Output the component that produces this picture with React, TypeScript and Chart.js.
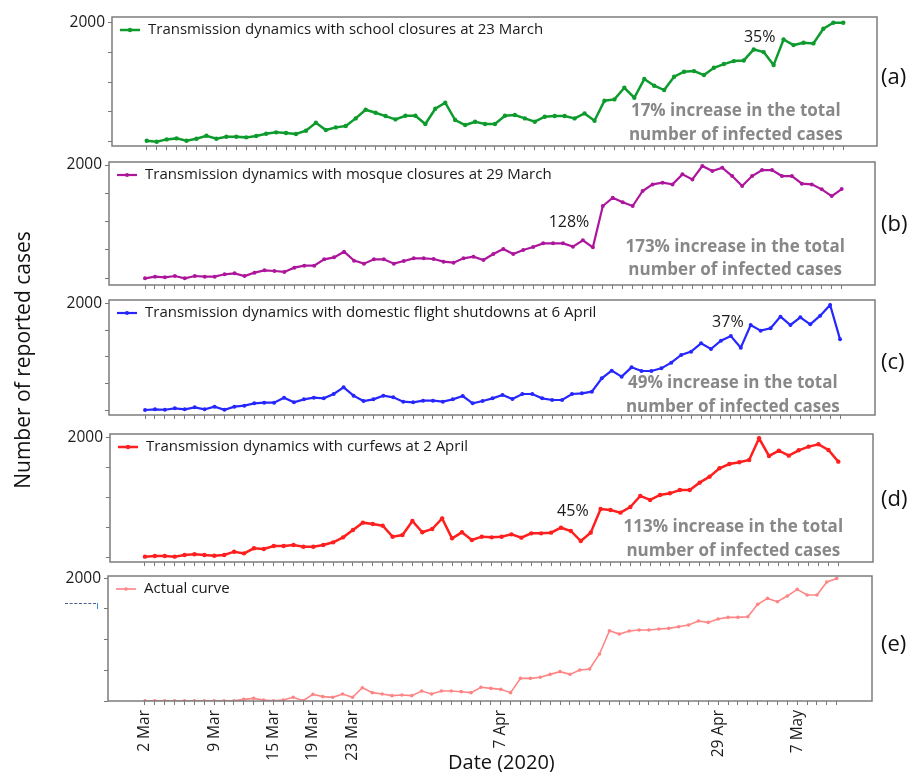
import React, { useEffect, useRef } from "react";
import { Chart, registerables } from "chart.js";

Chart.register(...registerables);
Chart.defaults.font.family = "'Open Sans', 'DejaVu Sans', sans-serif";

// ---- Data ----
const dates: string[] = [
  "2 Mar", "3 Mar", "4 Mar", "5 Mar", "6 Mar", "7 Mar", "8 Mar", "9 Mar", "10 Mar", "11 Mar",
  "12 Mar", "13 Mar", "14 Mar", "15 Mar", "16 Mar", "17 Mar", "18 Mar", "19 Mar", "20 Mar", "21 Mar",
  "22 Mar", "23 Mar", "24 Mar", "25 Mar", "26 Mar", "27 Mar", "28 Mar", "29 Mar", "30 Mar", "31 Mar",
  "1 Apr", "2 Apr", "3 Apr", "4 Apr", "5 Apr", "6 Apr", "7 Apr", "8 Apr", "9 Apr", "10 Apr",
  "11 Apr", "12 Apr", "13 Apr", "14 Apr", "15 Apr", "16 Apr", "17 Apr", "18 Apr", "19 Apr", "20 Apr",
  "21 Apr", "22 Apr", "23 Apr", "24 Apr", "25 Apr", "26 Apr", "27 Apr", "28 Apr", "29 Apr", "30 Apr",
  "1 May", "2 May", "3 May", "4 May", "5 May", "6 May", "7 May", "8 May", "9 May", "10 May", "11 May",
];
const tickLabels: string[] = ["2 Mar", "9 Mar", "15 Mar", "19 Mar", "23 Mar", "7 Apr", "29 Apr", "7 May"];
const yTickValues: number[] = [0, 500, 1000, 1500, 2000];
const yLabelValues: number[] = [2000];

const schoolClosures: number[] = [
  17, 0, 39, 56, 17, 50, 101, 50, 84, 84,
  73, 95, 134, 157, 146, 129, 185, 319, 196, 241,
  263, 392, 538, 487, 431, 375, 437, 437, 297, 554,
  655, 364, 280, 336, 297, 297, 437, 448, 392, 336,
  420, 431, 431, 392, 476, 353, 689, 711, 907, 739,
  1053, 941, 868, 1092, 1176, 1187, 1120, 1243, 1305, 1355,
  1366, 1551, 1506, 1288, 1719, 1624, 1663, 1652, 1898, 1999, 1999,
];
const mosqueClosures: number[] = [
  0, 29, 18, 41, 0, 41, 29, 29, 71, 88,
  41, 100, 141, 129, 112, 188, 223, 223, 335, 370,
  470, 312, 259, 335, 335, 259, 306, 353, 353, 341,
  294, 276, 353, 382, 323, 429, 517, 429, 500, 553,
  617, 617, 617, 559, 670, 547, 1276, 1423, 1341, 1276,
  1541, 1658, 1688, 1658, 1835, 1746, 1982, 1893, 1952, 1805,
  1629, 1805, 1911, 1911, 1805, 1805, 1670, 1658, 1570, 1452, 1576,
];
const flightShutdowns: number[] = [
  0, 13, 5, 31, 13, 50, 13, 63, 5, 63,
  82, 126, 138, 138, 233, 145, 201, 233, 220, 302,
  428, 270, 170, 201, 270, 239, 157, 145, 176, 176,
  157, 201, 264, 126, 170, 220, 283, 208, 302, 302,
  220, 189, 189, 302, 315, 346, 598, 742, 629, 805,
  736, 736, 786, 893, 1038, 1101, 1258, 1151, 1308, 1396,
  1176, 1604, 1497, 1541, 1761, 1604, 1749, 1617, 1780, 1981, 1333,
];
const curfews: number[] = [
  17, 28, 28, 17, 44, 56, 44, 33, 44, 100,
  72, 156, 145, 195, 195, 211, 183, 183, 211, 256,
  339, 461, 584, 561, 534, 350, 378, 612, 423, 478,
  656, 322, 423, 295, 350, 339, 350, 389, 334, 406,
  406, 417, 500, 445, 278, 417, 812, 795, 751, 845,
  1029, 962, 1045, 1073, 1129, 1129, 1251, 1351, 1490, 1562,
  1590, 1629, 1990, 1696, 1785, 1701, 1790, 1851, 1890, 1796, 1601,
];
const actualCurve: number[] = [
  5, 5, 5, 5, 5, 5, 5, 5, 5, 5,
  27, 43, 16, 5, 16, 60, 5, 109, 71, 60,
  114, 60, 217, 136, 114, 87, 98, 87, 163, 114,
  163, 163, 152, 136, 223, 206, 190, 136, 369, 369,
  386, 434, 478, 434, 505, 521, 766, 1146, 1091, 1140,
  1157, 1157, 1173, 1184, 1211, 1238, 1303, 1281, 1336, 1363,
  1363, 1374, 1575, 1672, 1618, 1710, 1819, 1727, 1727, 1939, 1998,
];

const legendLabels: string[] = [
  "Transmission dynamics with school closures at 23 March",
  "Transmission dynamics with mosque closures at 29 March",
  "Transmission dynamics with domestic flight shutdowns at 6 April",
  "Transmission dynamics with curfews at 2 April",
  "Actual curve",
];
const panelTags: string[] = ["(a)", "(b)", "(c)", "(d)", "(e)"];
const percentNotes: string[] = ["35%", "128%", "37%", "45%", ""];
const increaseNotes: string[] = [
  "17% increase in the total",
  "173% increase in the total",
  "49% increase in the total",
  "113% increase in the total",
  "",
];
const increaseNote2 = "number of infected cases";

// ---- Layout / style ----
type Panel = {
  series: number[];
  color: string;
  lw: number;
  pr: number;
  box: { l: number; t: number; r: number; b: number };
  xr: [number, number];
  yr: [number, number];
  pct?: [number, number];
  note?: [number, number, number];
  showX: boolean;
  tagY: number;
};

const panels: Panel[] = [
  { series: schoolClosures, color: "#0e9b2d", lw: 2.5, pr: 2.2, box: { l: 112, t: 17, r: 877, b: 146 }, xr: [-3.49, 73.39], yr: [-72, 2096], pct: [61.6, 1750], note: [59.2, 516, 113], showX: false, tagY: 75 },
  { series: mosqueClosures, color: "#ad169c", lw: 2.2, pr: 2.0, box: { l: 109, t: 162, r: 875, b: 285 }, xr: [-3.62, 73.35], yr: [-118, 2053], pct: [42.6, 994], note: [59.3, 552, 146], showX: false, tagY: 222 },
  { series: flightShutdowns, color: "#2626ff", lw: 2.2, pr: 2.0, box: { l: 109, t: 300, r: 875, b: 415 }, xr: [-3.63, 73.52], yr: [-94, 2075], pct: [58.7, 1651], note: [59.2, 509, 57], showX: false, tagY: 360 },
  { series: curfews, color: "#ff1f1f", lw: 2.5, pr: 2.2, box: { l: 110, t: 434, r: 873, b: 562 }, xr: [-3.53, 73.5], yr: [-72, 2062], pct: [43.2, 778], note: [59.4, 512, 112], showX: false, tagY: 497 },
  { series: actualCurve, color: "#ff8585", lw: 1.6, pr: 1.8, box: { l: 108, t: 576, r: 872, b: 701 }, xr: [-3.74, 73.57], yr: [0, 2037], showX: true, tagY: 642 },
];

const PAD_TOP = 14;
const W = 915;

function PanelChart({ p, idx }: { p: Panel; idx: number }) {
  const ref = useRef<HTMLCanvasElement>(null);
  const xH = p.showX ? 70 : 16;
  const h = p.box.b - p.box.t + PAD_TOP + xH;
  const top = p.box.t - PAD_TOP;

  useEffect(() => {
    if (!ref.current) return;
    const deco = {
      id: "deco" + idx,
      afterDatasetsDraw(chart: any) {
        const { ctx, chartArea, scales } = chart;
        const { left, top: t, right, bottom } = chartArea;
        ctx.save();
        // frame
        ctx.strokeStyle = "#7c7c7c";
        ctx.lineWidth = 1.5;
        ctx.strokeRect(left, t, right - left, bottom - t);
        // legend
        const ly = t + 13;
        ctx.strokeStyle = p.color;
        ctx.lineWidth = p.lw;
        ctx.beginPath();
        ctx.moveTo(left + 8, ly);
        ctx.lineTo(left + 28, ly);
        ctx.stroke();
        ctx.fillStyle = p.color;
        ctx.beginPath();
        ctx.arc(left + 18, ly, p.pr, 0, Math.PI * 2);
        ctx.fill();
        ctx.fillStyle = "#1a1a1a";
        ctx.font = "15px 'Open Sans', sans-serif";
        ctx.textBaseline = "middle";
        ctx.textAlign = "left";
        ctx.fillText(legendLabels[idx], left + 36, ly);
        // annotations
        if (p.pct && percentNotes[idx]) {
          ctx.font = "16px 'Open Sans', sans-serif";
          ctx.textAlign = "center";
          ctx.fillStyle = "#1a1a1a";
          ctx.fillText(percentNotes[idx], scales.x.getPixelForValue(p.pct[0]), scales.y.getPixelForValue(p.pct[1]));
        }
        if (p.note && increaseNotes[idx]) {
          ctx.font = "bold 17px 'Open Sans', sans-serif";
          ctx.textAlign = "center";
          ctx.fillStyle = "#888888";
          const nx = scales.x.getPixelForValue(p.note[0]);
          ctx.fillText(increaseNotes[idx], nx, scales.y.getPixelForValue(p.note[1]));
          ctx.fillText(increaseNote2, nx, scales.y.getPixelForValue(p.note[2]));
        }
        ctx.restore();
      },
    };

    const chart = new Chart(ref.current, {
      type: "line",
      data: {
        datasets: [
          {
            data: p.series.map((v, i) => ({ x: i, y: v })),
            borderColor: p.color,
            backgroundColor: p.color,
            borderWidth: p.lw,
            pointRadius: p.pr,
            pointBorderWidth: 0,
            pointBackgroundColor: p.color,
            tension: 0,
            fill: false,
          },
        ],
      },
      options: {
        animation: false,
        responsive: false,
        maintainAspectRatio: false,
        devicePixelRatio: 1,
        layout: { padding: { top: PAD_TOP, left: 0, right: W - p.box.r, bottom: 0 } },
        plugins: { legend: { display: false }, tooltip: { enabled: false }, title: { display: false } },
        scales: {
          x: {
            type: "linear",
            min: p.xr[0],
            max: p.xr[1],
            afterBuildTicks: (s: any) => {
              s.ticks = dates.map((_, i) => ({ value: i }));
            },
            afterFit: (s: any) => {
              s.height = xH;
            },
            ticks: {
              display: p.showX,
              autoSkip: false,
              minRotation: 90,
              maxRotation: 90,
              padding: 5,
              color: "#1a1a1a",
              font: { size: 15.5 },
              callback: (v: any) => (tickLabels.includes(dates[v]) ? dates[v] : ""),
            },
            grid: { display: true, drawOnChartArea: false, drawTicks: true, tickLength: 4, color: "#777", lineWidth: 1 },
            border: { display: false },
          },
          y: {
            min: p.yr[0],
            max: p.yr[1],
            afterBuildTicks: (s: any) => {
              s.ticks = yTickValues.map((v) => ({ value: v }));
            },
            afterFit: (s: any) => {
              s.width = p.box.l;
            },
            ticks: {
              padding: 3,
              color: "#1a1a1a",
              font: { size: 15.5 },
              callback: (v: any) => (yLabelValues.includes(v) ? String(v) : ""),
            },
            grid: { display: true, drawOnChartArea: false, drawTicks: true, tickLength: 4, color: "#777", lineWidth: 1 },
            border: { display: false },
          },
        },
      },
      plugins: [deco],
    } as any);
    return () => chart.destroy();
  }, []);

  return (
    <canvas
      ref={ref}
      width={W}
      height={h}
      style={{ position: "absolute", left: 0, top, width: W, height: h }}
    />
  );
}

export default function App() {
  const font = "'Open Sans', 'DejaVu Sans', sans-serif";
  return (
    <div style={{ position: "fixed", left: 0, top: 0, width: W, height: 772, background: "#fff", overflow: "hidden", fontFamily: font }}>
      {panels.map((p, i) => (
        <PanelChart key={i} p={p} idx={i} />
      ))}
      {panels.map((p, i) => (
        <div key={"t" + i} style={{ position: "absolute", left: 881, top: p.tagY - 15, fontSize: 22, lineHeight: "30px", color: "#111" }}>
          {panelTags[i]}
        </div>
      ))}
      <div
        style={{
          position: "absolute",
          left: 22 - 160,
          top: 360 - 14,
          width: 320,
          textAlign: "center",
          fontSize: 21,
          lineHeight: "28px",
          color: "#111",
          transform: "rotate(-90deg)",
        }}
      >
        Number of reported cases
      </div>
      <div style={{ position: "absolute", left: 448, top: 750, fontSize: 20, lineHeight: "24px", color: "#111", whiteSpace: "nowrap" }}>
        Date (2020)
      </div>
      <div style={{ position: "absolute", left: 65, top: 603, width: 31, borderTop: "1.5px dashed #4a5f8a" }} />
      <div style={{ position: "absolute", left: 97, top: 603, width: 1, height: 6, background: "#3a8ad8" }} />
    </div>
  );
}
